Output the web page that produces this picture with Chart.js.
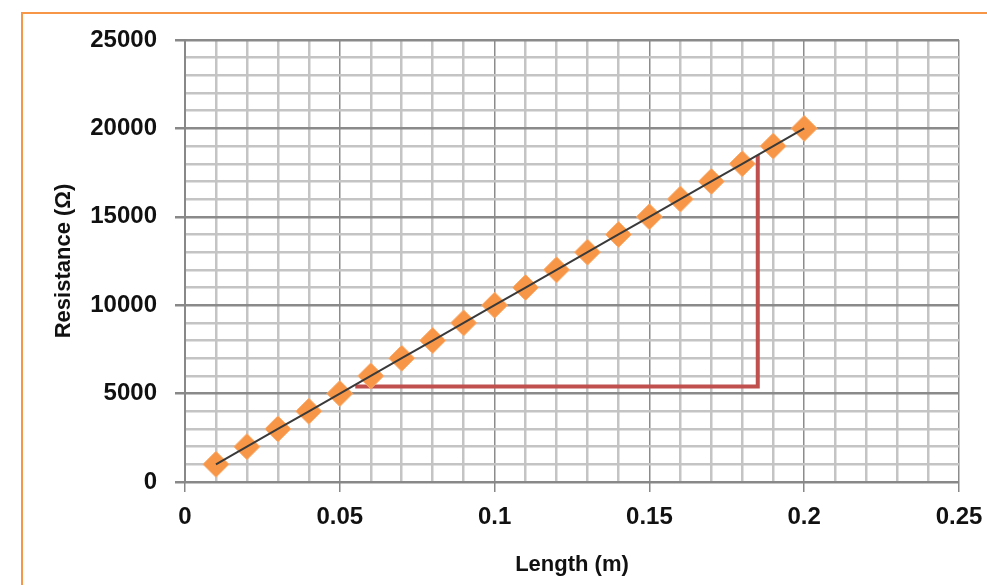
<!DOCTYPE html>
<html lang="en">
<head>
    <meta charset="UTF-8">
    <title>Resistance vs Length</title>
    <script src="https://cdn.jsdelivr.net/npm/chart.js"></script>
    <style>
        body { margin: 0; background: #fff; overflow: hidden; }
        #frame { position: absolute; left: 21px; top: 12px; width: 1000px; height: 600px; border: 2px solid #F79646; }
        #wrap { position: absolute; left: 0; top: 0; width: 987px; height: 585px; }
    </style>
</head>
<body>
    <div id="frame"></div>
    <div id="wrap"><canvas id="chart" width="987" height="585"></canvas></div>

    <script>
        // measured points
        const lengths = [0.01, 0.02, 0.03, 0.04, 0.05, 0.06, 0.07, 0.08, 0.09, 0.1,
                         0.11, 0.12, 0.13, 0.14, 0.15, 0.16, 0.17, 0.18, 0.19, 0.2];
        const resistances = [1000, 2000, 3000, 4000, 5000, 6000, 7000, 8000, 9000, 10000,
                             11000, 12000, 13000, 14000, 15000, 16000, 17000, 18000, 19000, 20000];

        // gradient triangle (red L)
        const slopeX = [0.055, 0.185, 0.185];
        const slopeY = [5400, 5400, 18500];

        // tick labels
        const xTickLabels = ["0", "0.05", "0.1", "0.15", "0.2", "0.25"];
        const yTickLabels = ["0", "5000", "10000", "15000", "20000", "25000"];

        const toPoints = (xs, ys) => xs.map((x, i) => ({ x: x, y: ys[i] }));
        const xMajor = v => Math.abs(Math.round(v / 0.05) * 0.05 - v) < 1e-9;
        const yMajor = v => v % 5000 === 0;

        const ctx = document.getElementById("chart").getContext("2d");
        new Chart(ctx, {
            type: "scatter",
            data: {
                datasets: [
                    {
                        label: "Trend",
                        data: toPoints(lengths, resistances),
                        showLine: true,
                        borderColor: "#3a3a3a",
                        borderWidth: 2,
                        pointRadius: 0,
                        order: 0
                    },
                    {
                        label: "Resistance",
                        data: toPoints(lengths, resistances),
                        pointStyle: "rectRot",
                        pointRadius: 13,
                        pointHoverRadius: 13,
                        backgroundColor: "#F79646",
                        borderColor: "#F9AE72",
                        borderWidth: 1,
                        order: 1
                    },
                    {
                        label: "Gradient",
                        data: toPoints(slopeX, slopeY),
                        showLine: true,
                        borderColor: "#C0504D",
                        borderWidth: 4,
                        pointRadius: 0,
                        order: 2
                    }
                ]
            },
            options: {
                responsive: false,
                animation: false,
                layout: { padding: { top: 40, right: 28, left: 0, bottom: 0 } },
                plugins: {
                    legend: { display: false },
                    tooltip: { enabled: false }
                },
                scales: {
                    x: {
                        type: "linear",
                        min: 0,
                        max: 0.25,
                        afterFit: scale => {
                            scale.height = 103;
                            scale.paddingLeft = 0;
                            scale.paddingRight = 0;
                        },
                        border: { color: "#888", width: 2 },
                        grid: {
                            color: c => c.tick && xMajor(c.tick.value) ? "#8c8c8c" : "#c4c4c4",
                            lineWidth: c => c.tick && xMajor(c.tick.value) ? 1.5 : 2.5,
                            tickColor: c => c.tick && xMajor(c.tick.value) ? "#888" : "rgba(0,0,0,0)",
                            tickLength: 10
                        },
                        ticks: {
                            stepSize: 0.01,
                            autoSkip: false,
                            maxRotation: 0,
                            padding: 11,
                            color: "#111",
                            font: { family: "Liberation Sans", size: 24, weight: "bold" },
                            callback: v => xMajor(v) ? xTickLabels[Math.round(v / 0.05)] : ""
                        },
                        title: {
                            display: true,
                            text: "Length (m)",
                            color: "#111",
                            font: { family: "Liberation Sans", size: 22, weight: "bold" },
                            padding: { top: 0, bottom: 7 }
                        }
                    },
                    y: {
                        min: 0,
                        max: 25000,
                        afterFit: scale => { scale.width = 185; },
                        border: { color: "#888", width: 2 },
                        grid: {
                            color: c => c.tick && yMajor(c.tick.value) ? "#8a8a8a" : "#c4c4c4",
                            lineWidth: 2.5,
                            tickColor: c => c.tick && yMajor(c.tick.value) ? "#888" : "rgba(0,0,0,0)",
                            tickLength: 10
                        },
                        ticks: {
                            stepSize: 1000,
                            autoSkip: false,
                            padding: 18,
                            color: "#111",
                            font: { family: "Liberation Sans", size: 24, weight: "bold" },
                            callback: v => yMajor(v) ? yTickLabels[v / 5000] : ""
                        },
                        title: {
                            display: true,
                            text: "Resistance (Ω)",
                            color: "#111",
                            font: { family: "Liberation Sans", size: 22, weight: "bold" },
                            padding: { top: 51, bottom: 0 }
                        }
                    }
                }
            }
        });
    </script>
</body>
</html>
